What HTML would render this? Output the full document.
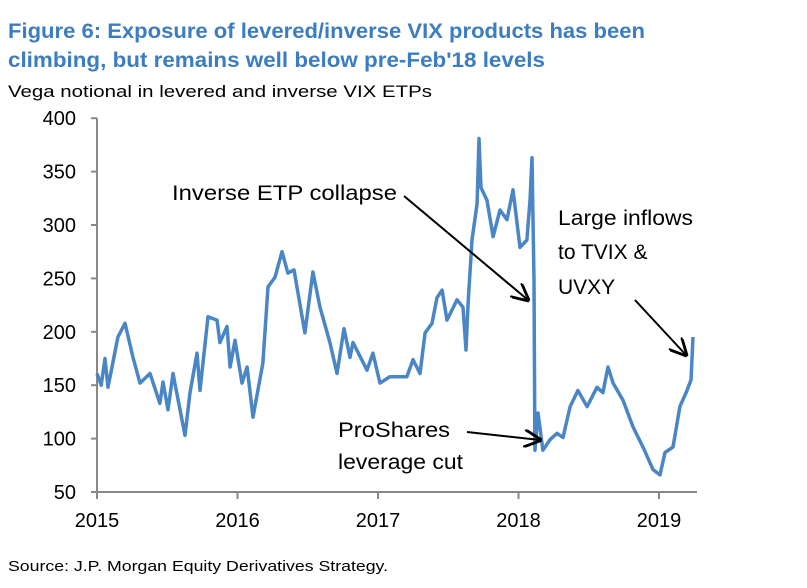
<!DOCTYPE html>
<html><head><meta charset="utf-8"><style>
body{margin:0;background:#fff;width:807px;height:583px;overflow:hidden;font-family:"Liberation Sans",Arial,sans-serif}
</style></head><body>
<svg width="807" height="583" font-family="Liberation Sans, Arial, sans-serif">
<defs><marker id="ah" viewBox="0 0 10 10" refX="9" refY="5" markerWidth="9" markerHeight="9" orient="auto"><path d="M0,0 L10,5 L0,10" fill="none" stroke="#000" stroke-width="1.6"/></marker></defs>
<text x="8" y="38" font-size="21" font-weight="bold" fill="#3b7dc0" textLength="637" lengthAdjust="spacingAndGlyphs">Figure 6: Exposure of levered/inverse VIX products has been</text>
<text x="8" y="67" font-size="21" font-weight="bold" fill="#3b7dc0" textLength="537" lengthAdjust="spacingAndGlyphs">climbing, but remains well below pre-Feb'18 levels</text>
<text x="8" y="97" font-size="17" fill="#000" textLength="424" lengthAdjust="spacingAndGlyphs">Vega notional in levered and inverse VIX ETPs</text>
<g id="axes"></g>
<path id="series" fill="none" stroke="#4a86c5" stroke-width="3.5" stroke-linejoin="round"/>
<g font-size="21" fill="#000">
<text x="172" y="200" textLength="225" lengthAdjust="spacingAndGlyphs">Inverse ETP collapse</text>
<text x="558" y="225" textLength="135" lengthAdjust="spacingAndGlyphs">Large inflows</text>
<text x="558" y="259">to TVIX &amp;</text>
<text x="558" y="294">UVXY</text>
<text x="338" y="437" textLength="112" lengthAdjust="spacingAndGlyphs">ProShares</text>
<text x="338" y="469" textLength="125" lengthAdjust="spacingAndGlyphs">leverage cut</text>
</g>
<g stroke="#000" stroke-width="2" marker-end="url(#ah)">
<line x1="404" y1="196" x2="528" y2="300"/>
<line x1="635" y1="300" x2="686" y2="355"/>
<line x1="467" y1="432" x2="540" y2="440"/>
</g>
<text x="8" y="571" font-size="15" fill="#000" textLength="380" lengthAdjust="spacingAndGlyphs">Source: J.P. Morgan Equity Derivatives Strategy.</text>
</svg>
<script>
const yTicks=[50,100,150,200,250,300,350,400];
const xTicks=[2015,2016,2017,2018,2019];
const dates=[2015.0,2015.03,2015.057,2015.078,2015.149,2015.199,2015.256,2015.306,2015.377,2015.448,2015.47,2015.505,2015.541,2015.626,2015.662,2015.712,2015.733,2015.79,2015.854,2015.875,2015.925,2015.947,2015.982,2016.032,2016.068,2016.11,2016.181,2016.217,2016.267,2016.317,2016.359,2016.402,2016.48,2016.537,2016.587,2016.658,2016.708,2016.758,2016.801,2016.822,2016.922,2016.964,2017.014,2017.085,2017.135,2017.206,2017.249,2017.299,2017.335,2017.384,2017.42,2017.456,2017.491,2017.562,2017.605,2017.626,2017.641,2017.669,2017.705,2017.719,2017.733,2017.776,2017.819,2017.868,2017.918,2017.961,2018.011,2018.06,2018.082,2018.096,2018.11,2018.117,2018.139,2018.174,2018.224,2018.274,2018.317,2018.367,2018.423,2018.488,2018.559,2018.601,2018.637,2018.673,2018.744,2018.815,2018.886,2018.957,2019.007,2019.043,2019.1,2019.149,2019.199,2019.228,2019.242];
const values=[161,150,175,148,195,208,176,152,161,133,153,127,161,103,143,180,145,214,211,190,205,167,192,152,167,120,171,242,251,275,255,258,199,256,223,190,161,203,176,190,164,180,152,158,158,158,174,161,199,208,232,239,211,230,223,183,227,286,320,381,335,323,289,314,305,333,279,286,323,363,248,89,124,89,99,105,101,130,145,130,148,143,167,152,136,111,92,71,66,87,92,130,145,155,195];
const X=t=>97+(t-2015)*140.5, Y=v=>492-(v-50)*53.4/50;
const ns="http://www.w3.org/2000/svg", ax=document.getElementById('axes');
function mk(tag,attrs){const e=document.createElementNS(ns,tag);for(const k in attrs)e.setAttribute(k,attrs[k]);ax.appendChild(e);return e;}
let e=mk('line',{x1:97,y1:Y(400),x2:97,y2:492,stroke:'#888','stroke-width':2});


e=mk('line',{x1:97,y1:492,x2:697,y2:492,stroke:'#888','stroke-width':2});


yTicks.forEach(v=>{mk('line',{x1:91,y1:Y(v),x2:97,y2:Y(v),stroke:'#888','stroke-width':2});
 const t=mk('text',{x:76,y:Y(v)+7,'font-size':20,'text-anchor':'end'});t.textContent=v;
 
 });
xTicks.forEach(y=>{mk('line',{x1:X(y),y1:492,x2:X(y),y2:499,stroke:'#888','stroke-width':2});
 const t=mk('text',{x:X(y),y:527,'font-size':20,'text-anchor':'middle'});t.textContent=y;
 
 });
document.getElementById('series').setAttribute('d',dates.map((t,i)=>(i?'L':'M')+X(t).toFixed(1)+','+Y(values[i]).toFixed(1)).join(' '));
</script>
</body></html>
